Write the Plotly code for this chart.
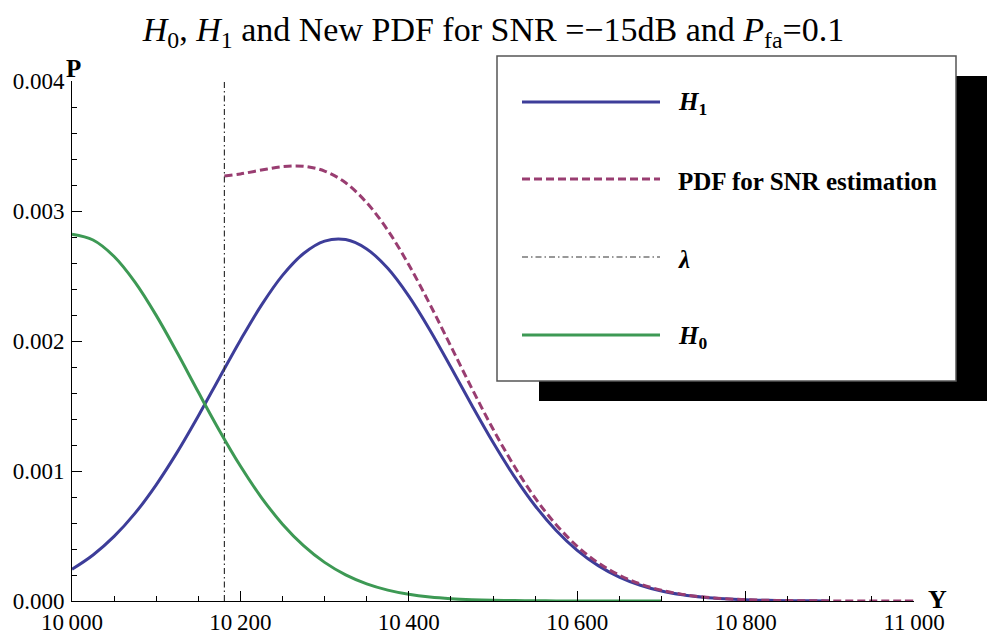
import plotly.graph_objects as go

# ---------------- data ----------------
x_h0 = [10000, 10025, 10050, 10075, 10100, 10125, 10150, 10175, 10200, 10225,
        10250, 10275, 10300, 10325, 10350, 10375, 10400, 10425, 10450, 10475,
        10500, 10525, 10550, 10575, 10600, 10625, 10650, 10675, 10700]
y_h0 = [0.002821, 0.002777, 0.002650, 0.002451, 0.002197, 0.001909, 0.001607,
        0.001312, 0.001038, 0.000796, 0.000591, 0.000426, 0.000297, 0.000201,
        0.000132, 0.0000839, 0.0000517, 0.0000309, 0.0000179, 0.0000100,
        0.0000054, 0.0000029, 0.0000015, 0.0000007, 0.0000003, 0.0000002,
        0.0000001, 0.0, 0.0]

x_h1 = [10000, 10025, 10050, 10075, 10100, 10125, 10150, 10175, 10200, 10225,
        10250, 10275, 10300, 10325, 10350, 10375, 10400, 10425, 10450, 10475,
        10500, 10525, 10550, 10575, 10600, 10625, 10650, 10675, 10700, 10725,
        10750, 10775, 10800, 10825, 10850, 10875, 10900]
y_h1 = [0.000244, 0.000354, 0.000497, 0.000676, 0.000894, 0.001145, 0.001423,
        0.001716, 0.002006, 0.002276, 0.002505, 0.002673, 0.002768, 0.002780,
        0.002708, 0.002559, 0.002345, 0.002085, 0.001798, 0.001504, 0.001221,
        0.000961, 0.000733, 0.000543, 0.000390, 0.000272, 0.000184, 0.000121,
        0.0000767, 0.0000473, 0.0000283, 0.0000164, 0.0000093, 0.0000051,
        0.0000027, 0.0000014, 0.0000007]

x_pdf = [10181, 10200, 10225, 10250, 10275, 10300, 10325, 10350, 10375, 10400,
         10425, 10450, 10475, 10500, 10525, 10550, 10575, 10600, 10625, 10650,
         10675, 10700, 10725, 10750, 10775, 10800, 10825, 10850, 10875, 10900,
         10925, 10950, 10975, 11000]
y_pdf = [0.003269, 0.003285, 0.003315, 0.003341, 0.003344, 0.003307, 0.003217,
         0.003064, 0.002852, 0.002586, 0.002283, 0.001959, 0.001634, 0.001323,
         0.001040, 0.000793, 0.000587, 0.000421, 0.000293, 0.000199, 0.000131,
         0.0000828, 0.0000510, 0.0000305, 0.0000177, 0.0000100, 0.0000055,
         0.0000029, 0.0000015, 0.0000008, 0.0000003, 0.0000001, 0.0, 0.0]

x_lambda = [10181, 10181]
y_lambda = [0.0, 0.004]

x_tickvals = [10000, 10200, 10400, 10600, 10800, 11000]
x_ticktext = ["10\u2009000", "10\u2009200", "10\u2009400", "10\u2009600", "10\u2009800", "11\u2009000"]
y_tickvals = [0.000, 0.001, 0.002, 0.003, 0.004]
y_ticktext = ["0.000", "0.001", "0.002", "0.003", "0.004"]

legend_labels = ["<b><i>H</i><sub>1</sub></b>", "<b>PDF for SNR estimation</b>",
                 "<b><i>λ</i></b>", "<b><i>H</i><sub>0</sub></b>"]

# ---------------- styles ----------------
BLUE = "#3d3d99"
PURPLE = "#993d71"
GREEN = "#3d9954"
LAMC = "#333333"
FONT = "Liberation Serif, Times New Roman, serif"

W, H = 987, 634
L, R, T, B = 72, 73, 81, 33
PW, PH = W - L - R, H - T - B

def px(xp):
    return (xp - L) / PW

def py(yp):
    return (H - B - yp) / PH

LW = 3
fig = go.Figure()
fig.add_trace(go.Scatter(x=x_h1, y=y_h1, mode="lines", line=dict(color=BLUE, width=LW, shape="spline"), name="H1"))
fig.add_trace(go.Scatter(x=x_pdf, y=y_pdf, mode="lines", line=dict(color=PURPLE, width=LW, dash="8px,4px", shape="spline"), name="PDF"))
fig.add_trace(go.Scatter(x=x_lambda, y=y_lambda, mode="lines", line=dict(color=LAMC, width=1.2, dash="6px,3px,1.5px,3px"), name="lambda"))
fig.add_trace(go.Scatter(x=x_h0, y=y_h0, mode="lines", line=dict(color=GREEN, width=LW, shape="spline"), name="H0"))

shapes = []
# legend shadow and box
shapes.append(dict(type="rect", xref="paper", yref="paper", x0=px(539), x1=px(1000), y0=py(401), y1=py(76),
                   fillcolor="black", line=dict(width=0), layer="above"))
shapes.append(dict(type="rect", xref="paper", yref="paper", x0=px(497), x1=px(956), y0=py(381), y1=py(56),
                   fillcolor="white", line=dict(color="#555555", width=1.5), layer="above"))
legend_rows = [102, 179, 257, 335]
legend_styles = [dict(color=BLUE, width=LW), dict(color=PURPLE, width=LW, dash="8px,4px"),
                 dict(color=LAMC, width=1.2, dash="6px,3px,1.5px,3px"), dict(color=GREEN, width=LW)]
annotations = []
for row, st, lab in zip(legend_rows, legend_styles, legend_labels):
    shapes.append(dict(type="line", xref="paper", yref="paper", x0=px(522), x1=px(660), y0=py(row), y1=py(row),
                       line=st, layer="above"))
    annotations.append(dict(xref="paper", yref="paper", x=px(676), y=py(row + 2), text=lab, showarrow=False,
                            xanchor="left", yanchor="middle", font=dict(family=FONT, size=25, color="black")))

annotations.append(dict(xref="paper", yref="paper", x=px(73), y=py(68), text="<b>P</b>", showarrow=False,
                        xanchor="center", yanchor="middle", font=dict(family=FONT, size=25, color="black")))
annotations.append(dict(xref="paper", yref="paper", x=px(937), y=py(599), text="<b>Y</b>", showarrow=False,
                        xanchor="center", yanchor="middle", font=dict(family=FONT, size=26, color="black")))

fig.update_layout(
    width=W, height=H,
    margin=dict(l=L, r=R, t=T, b=B, autoexpand=False),
    paper_bgcolor="white", plot_bgcolor="white",
    showlegend=False,
    font=dict(family=FONT, color="black"),
    title=dict(text="<i>H</i><sub>0</sub>, <i>H</i><sub>1</sub> and New PDF for SNR =\u221215dB and <i>P</i><sub>fa</sub>=0.1",
               x=0.5, xanchor="center", y=1 - 29 / H, yanchor="middle",
               font=dict(family=FONT, size=34, color="black")),
    shapes=shapes,
    annotations=annotations,
    xaxis=dict(range=[10000, 11000], showline=True, linecolor="black", linewidth=1,
               ticks="inside", ticklen=10, tickwidth=1, tickcolor="black",
               tickmode="array", tickvals=x_tickvals, ticktext=x_ticktext,
               tickfont=dict(family=FONT, size=23, color="black"),
               showgrid=False, zeroline=False, ticklabelstandoff=0, automargin=False,
               minor=dict(tickmode="linear", tick0=10000, dtick=50, ticks="inside", ticklen=5,
                          tickcolor="black", tickwidth=1, showgrid=False)),
    yaxis=dict(range=[0, 0.004], showline=True, linecolor="black", linewidth=1,
               ticks="inside", ticklen=10, tickwidth=1, tickcolor="black",
               tickmode="array", tickvals=y_tickvals, ticktext=y_ticktext,
               tickfont=dict(family=FONT, size=23, color="black"),
               showgrid=False, zeroline=False, ticklabelstandoff=2, automargin=False,
               minor=dict(tickmode="linear", tick0=0, dtick=0.0002, ticks="inside", ticklen=5,
                          tickcolor="black", tickwidth=1, showgrid=False)),
)

fig.write_html("out.html")
